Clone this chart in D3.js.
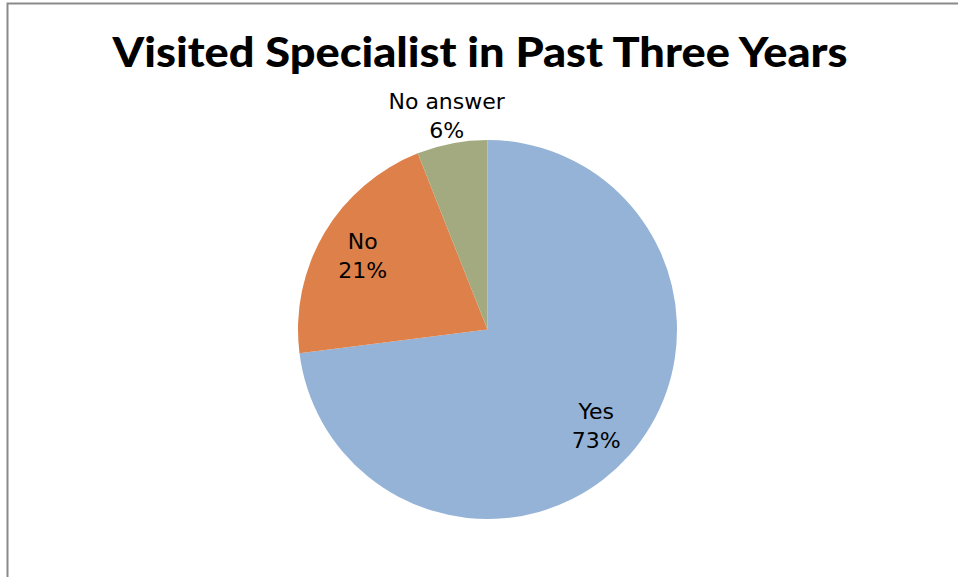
<!DOCTYPE html>
<html>
<head>
<meta charset="utf-8">
<script src="https://cdn.jsdelivr.net/npm/d3@7"></script>
<style>
  html, body { margin: 0; padding: 0; background: #fff; }
  svg { display: block; }
</style>
</head>
<body>
<script>
// Survey answers and their shares (percent)
const categories = ["Yes", "No", "No answer"];
const values = [73, 21, 6];
const colors = ["#95B3D7", "#DE8049", "#A4AA80"];
const title = "Visited Specialist in Past Three Years";

const W = 958, H = 577;
const cx = 487.5, cy = 329.5, R = 189.5;

const svg = d3.select("body").append("svg")
  .attr("width", W).attr("height", H);

svg.append("rect").attr("width", W).attr("height", H).attr("fill", "#fff");

// Chart frame (extends past the visible area on right and bottom)
svg.append("rect")
  .attr("x", 7.5).attr("y", 3.5)
  .attr("width", W + 20).attr("height", H + 20)
  .attr("fill", "none").attr("stroke", "#8a8a8a").attr("stroke-width", 2);

svg.append("text")
  .attr("x", 480).attr("y", 67)
  .attr("text-anchor", "middle")
  .attr("font-family", "Lato, 'Open Sans', sans-serif")
  .attr("font-weight", "900")
  .attr("font-size", 41)
  .attr("textLength", 735)
  .attr("lengthAdjust", "spacingAndGlyphs")
  .attr("fill", "#000")
  .text(title);

const data = categories.map((c, i) => ({ cat: c, value: values[i], color: colors[i] }));

const pie = d3.pie().value(d => d.value).sort(null);
const arcs = pie(data);
const arc = d3.arc().innerRadius(0).outerRadius(R);

const g = svg.append("g").attr("transform", `translate(${cx},${cy})`);

g.selectAll("path").data(arcs).enter().append("path")
  .attr("d", arc)
  .attr("fill", d => d.data.color);

// Labels: inside for large slices, outside for the smallest one
const labelRadius = d => (d.data.value < 10 ? R * 1.15 : R * 0.765);
const lab = g.selectAll("g.lab").data(arcs).enter().append("g").attr("class", "lab")
  .attr("transform", d => {
    const r = labelRadius(d);
    const c = d3.arc().innerRadius(r).outerRadius(r).centroid(d);
    return `translate(${c[0]},${c[1]})`;
  });

const fontFam = "'DejaVu Sans', sans-serif";
lab.append("text")
  .attr("text-anchor", "middle").attr("y", -6.5)
  .attr("font-family", fontFam).attr("font-size", 22).attr("fill", "#000")
  .text(d => d.data.cat);
lab.append("text")
  .attr("text-anchor", "middle").attr("y", 22.5)
  .attr("font-family", fontFam).attr("font-size", 22).attr("fill", "#000")
  .text(d => d.data.value + "%");
</script>
</body>
</html>
